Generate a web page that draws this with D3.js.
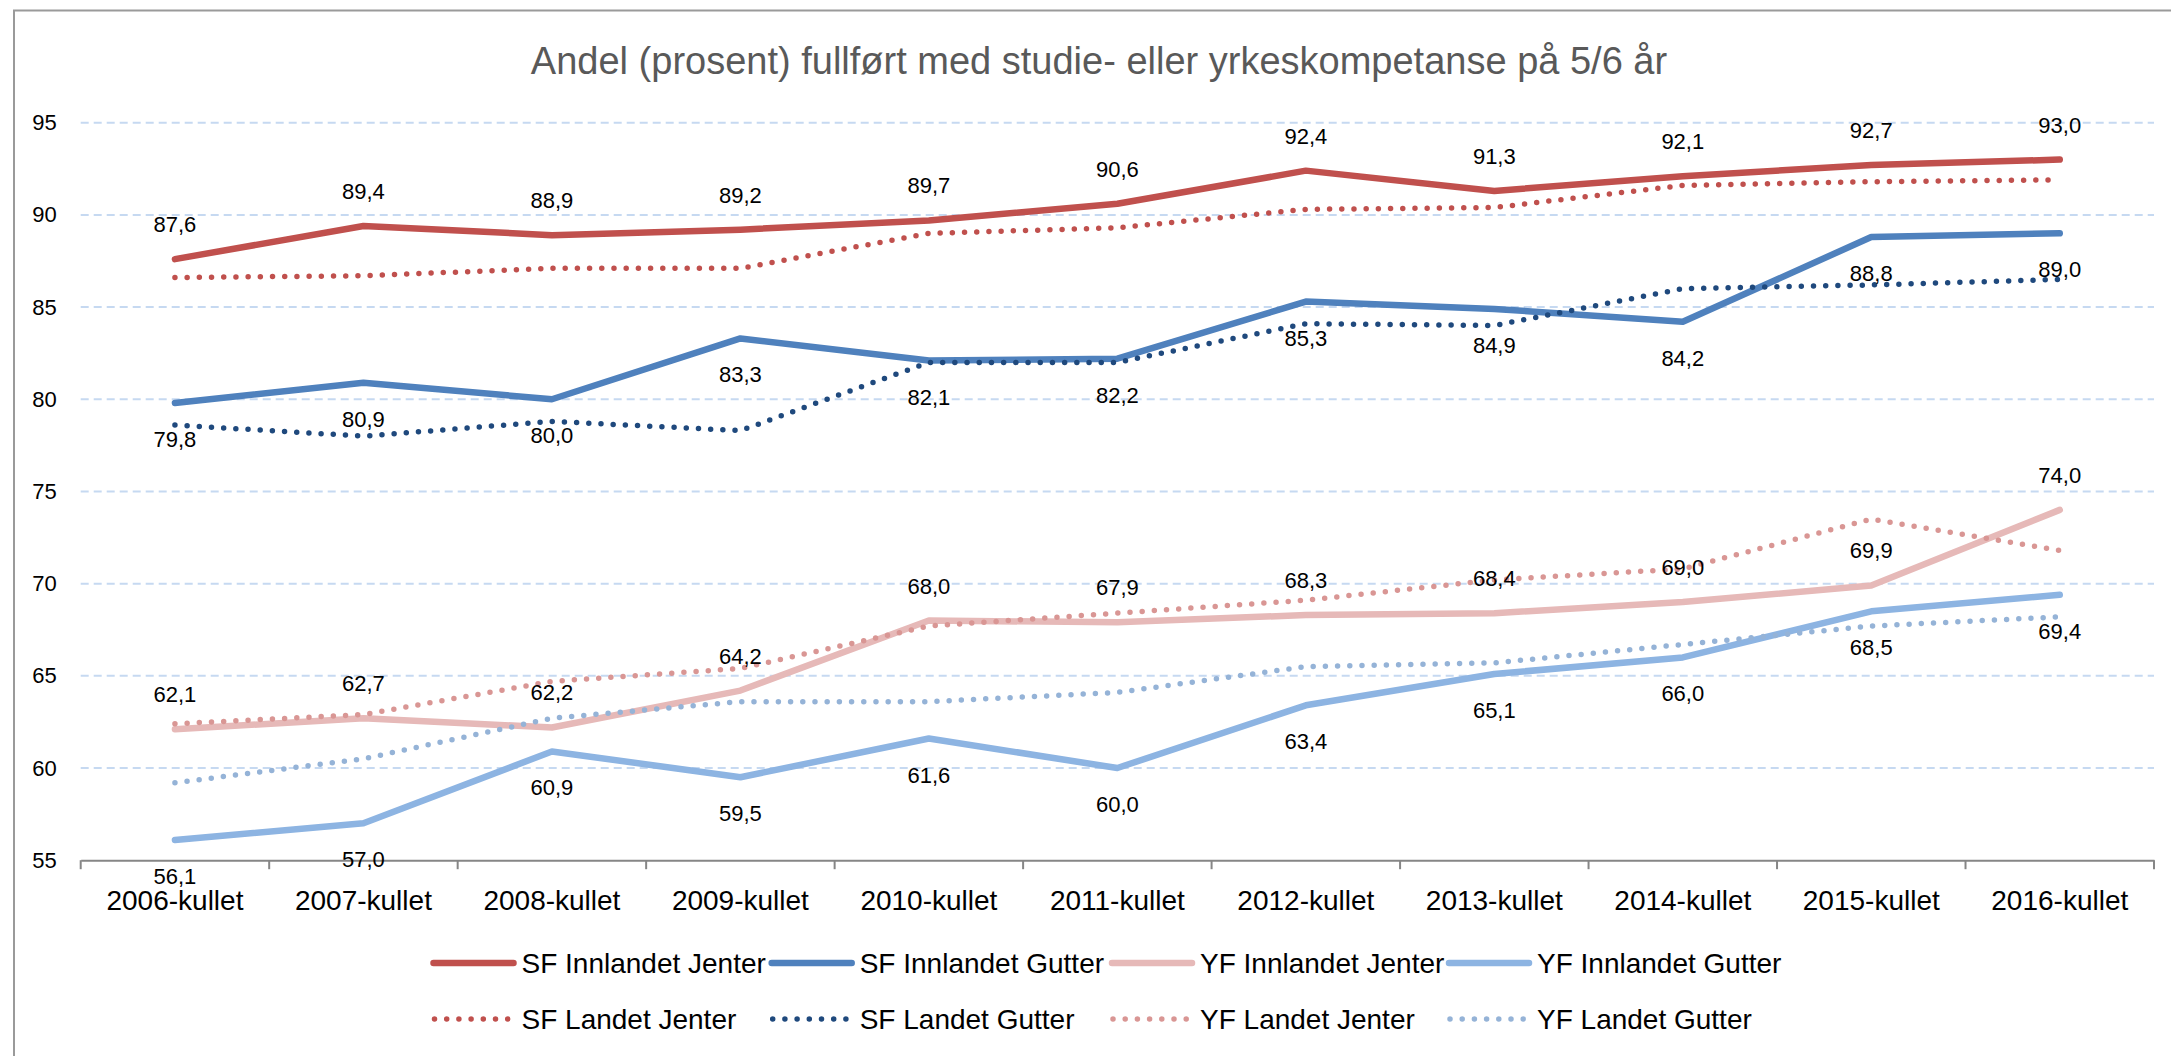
<!DOCTYPE html>
<html>
<head>
<meta charset="utf-8">
<script src="https://cdn.jsdelivr.net/npm/d3@7"></script>
<style>
  body { margin: 0; background: #fff; }
  svg { display: block; font-family: "Liberation Sans", Arial, sans-serif; }
</style>
</head>
<body>
<svg id="chart" width="2171" height="1056"></svg>
<script>
// kull (x-akse)
const kull = ["2006-kullet", "2007-kullet", "2008-kullet", "2009-kullet", "2010-kullet", "2011-kullet",
  "2012-kullet", "2013-kullet", "2014-kullet", "2015-kullet", "2016-kullet"];
const yTicks = [55, 60, 65, 70, 75, 80, 85, 90, 95];

// Innlandet (med dataetiketter)
const sfInnlandetJenter = [87.6, 89.4, 88.9, 89.2, 89.7, 90.6, 92.4, 91.3, 92.1, 92.7, 93.0];
const sfInnlandetGutter = [79.8, 80.9, 80.0, 83.3, 82.1, 82.2, 85.3, 84.9, 84.2, 88.8, 89.0];
const yfInnlandetJenter = [62.1, 62.7, 62.2, 64.2, 68.0, 67.9, 68.3, 68.4, 69.0, 69.9, 74.0];
const yfInnlandetGutter = [56.1, 57.0, 60.9, 59.5, 61.6, 60.0, 63.4, 65.1, 66.0, 68.5, 69.4];
// Landet (stiplet, uten etiketter) - lest av fra figuren
const sfLandetJenter = [86.6, 86.7, 87.1, 87.1, 89.0, 89.3, 90.3, 90.4, 91.6, 91.8, 91.9];
const sfLandetGutter = [78.6, 78.0, 78.8, 78.3, 82.0, 82.0, 84.1, 84.0, 86.0, 86.2, 86.5];
const yfLandetJenter = [62.4, 62.9, 64.7, 65.4, 67.7, 68.4, 69.1, 70.2, 70.8, 73.5, 71.8];
const yfLandetGutter = [59.2, 60.5, 62.7, 63.6, 63.6, 64.1, 65.5, 65.7, 66.7, 67.7, 68.2];

const series = [
  { name: "SF Innlandet Jenter", values: sfInnlandetJenter, color: "#C0504D", dotted: false, label: "above" },
  { name: "SF Innlandet Gutter", values: sfInnlandetGutter, color: "#4F81BD", dotted: false, label: "below" },
  { name: "YF Innlandet Jenter", values: yfInnlandetJenter, color: "#E6B9B8", dotted: false, label: "above" },
  { name: "YF Innlandet Gutter", values: yfInnlandetGutter, color: "#8DB4E2", dotted: false, label: "below" },
  { name: "SF Landet Jenter", values: sfLandetJenter, color: "#C0504D", dotted: true },
  { name: "SF Landet Gutter", values: sfLandetGutter, color: "#1F497D", dotted: true },
  { name: "YF Landet Jenter", values: yfLandetJenter, color: "#D99694", dotted: true },
  { name: "YF Landet Gutter", values: yfLandetGutter, color: "#95B3D7", dotted: true }
];

const svg = d3.select("#chart");
const plotLeft = 80.7, plotRight = 2154, plotTop = 122.7, plotBottom = 860.2;

const x = d3.scaleBand().domain(kull).range([plotLeft, plotRight]);
const y = d3.scaleLinear().domain([55, 95]).range([plotBottom, plotTop]);
const cx = d => x(d) + x.bandwidth() / 2;
const fmt = v => v.toFixed(1).replace(".", ",");

// ramme rundt diagramomraadet
svg.append("rect")
  .attr("x", 14).attr("y", 10.5)
  .attr("width", 2200).attr("height", 1100)
  .attr("fill", "none")
  .attr("stroke", "#9a9a9a")
  .attr("stroke-width", 2);

// tittel
svg.append("text")
  .attr("x", 1099).attr("y", 74)
  .attr("text-anchor", "middle")
  .style("font-size", "38px")
  .attr("fill", "#595959")
  .text("Andel (prosent) fullført med studie- eller yrkeskompetanse på 5/6 år");

// rutenett
svg.append("g")
  .selectAll("line")
  .data(yTicks.filter(d => d > 55))
  .join("line")
  .attr("x1", plotLeft).attr("x2", plotRight)
  .attr("y1", d => y(d)).attr("y2", d => y(d))
  .attr("stroke", "#C6D9F1")
  .attr("stroke-width", 2)
  .attr("stroke-dasharray", "8,5");

// y-akse
const yAxis = svg.append("g")
  .attr("transform", `translate(${plotLeft},0)`)
  .call(d3.axisLeft(y).tickValues(yTicks).tickSize(0).tickPadding(24).tickFormat(d3.format("d")));
yAxis.select(".domain").remove();
yAxis.selectAll("text").style("font-size", "22px").attr("fill", "#000");

// x-akse
const xAxis = svg.append("g")
  .attr("transform", `translate(0,${plotBottom})`)
  .call(d3.axisBottom(x).tickSize(0).tickPadding(30));
xAxis.select(".domain").attr("stroke", "#868686").attr("stroke-width", 2);
xAxis.selectAll("text").style("font-size", "28px").attr("fill", "#000");

// tick-merker mellom kategoriene
const edges = kull.map(d => x(d)).concat([plotRight]);
svg.append("g")
  .selectAll("line")
  .data(edges)
  .join("line")
  .attr("x1", d => d).attr("x2", d => d)
  .attr("y1", plotBottom).attr("y2", plotBottom + 9)
  .attr("stroke", "#868686")
  .attr("stroke-width", 2);

// linjer
const line = d3.line()
  .x((d, i) => cx(kull[i]))
  .y(d => y(d));

svg.append("g")
  .selectAll("path")
  .data(series)
  .join("path")
  .attr("d", d => line(d.values))
  .attr("fill", "none")
  .attr("stroke", d => d.color)
  .attr("stroke-width", d => d.dotted ? 5.5 : 6.5)
  .attr("stroke-linecap", "round")
  .attr("stroke-linejoin", "round")
  .attr("stroke-dasharray", d => d.dotted ? "0,12.2" : null);

// dataetiketter
series.filter(s => s.label).forEach(s => {
  svg.append("g")
    .selectAll("text")
    .data(s.values)
    .join("text")
    .attr("x", (d, i) => cx(kull[i]))
    .attr("y", d => y(d) + (s.label === "above" ? -35 : 36) + 8)
    .attr("text-anchor", "middle")
    .style("font-size", "22px")
    .attr("fill", "#000")
    .text(d => fmt(d));
});

// tegnforklaring
const legendCols = [433.5, 771.7, 1112, 1449];
const legendRows = [963, 1019];
const legend = svg.append("g");
series.forEach((s, i) => {
  const lx = legendCols[i % 4];
  const ly = legendRows[Math.floor(i / 4)];
  legend.append("line")
    .attr("x1", s.dotted ? lx + 1 : lx).attr("x2", s.dotted ? lx + 74.5 : lx + 80)
    .attr("y1", ly).attr("y2", ly)
    .attr("stroke", s.color)
    .attr("stroke-width", s.dotted ? 5.5 : 6.5)
    .attr("stroke-linecap", "round")
    .attr("stroke-dasharray", s.dotted ? "0,12.2" : null);
  legend.append("text")
    .attr("x", lx + 88).attr("y", ly + 10)
    .style("font-size", "28px")
    .attr("fill", "#000")
    .text(s.name);
});
</script>
</body>
</html>
